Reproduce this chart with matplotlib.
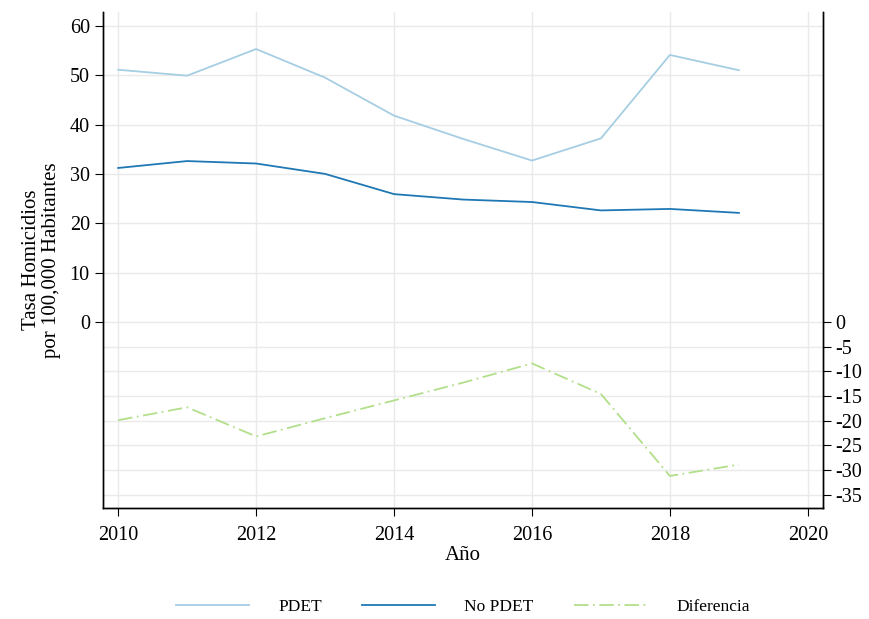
import matplotlib
matplotlib.use("Agg")
import matplotlib.pyplot as plt

# values
years = [2010, 2011, 2012, 2013, 2014, 2015, 2016, 2017, 2018, 2019]
pdet = [51.1, 49.9, 55.3, 49.5, 41.8, 37.1, 32.7, 37.2, 54.1, 51.0]
no_pdet = [31.2, 32.6, 32.1, 30.0, 25.9, 24.8, 24.3, 22.6, 22.9, 22.1]
diferencia = [-19.9, -17.3, -23.2, -19.5, -15.9, -12.3, -8.4, -14.6, -31.2, -28.9]

left_ticks = [0, 10, 20, 30, 40, 50, 60]
right_ticks = [0, -5, -10, -15, -20, -25, -30, -35]
x_ticks = [2010, 2012, 2014, 2016, 2018, 2020]

plt.rcParams["font.family"] = ["Liberation Serif", "DejaVu Serif"]
plt.rcParams["axes.unicode_minus"] = False

FS = 14.5

fig = plt.figure(figsize=(8.7, 6.19), dpi=100)
ax = fig.add_axes([0.1184, 0.1793, 0.8276, 0.8013])
ax2 = ax.twinx()

l1, = ax.plot(years, pdet, color="#a6cee3", lw=1.3, label="PDET")
l2, = ax.plot(years, no_pdet, color="#1f78b4", lw=1.3, label="No PDET")
l3, = ax2.plot(years, diferencia, color="#b2df8a", lw=1.3,
               dashes=(8, 2.5, 1, 2.5), label="Diferencia")

ylim = (-37.7, 62.8)
ax.set_ylim(*ylim)
ax2.set_ylim(*ylim)
ax.set_xlim(2009.78, 2020.22)

# grid
for v in left_ticks + right_ticks[1:]:
    ax.axhline(v, color="#eaeaea", lw=1.0, zorder=0)
for v in x_ticks:
    ax.axvline(v, color="#eaeaea", lw=1.0, zorder=0)

ax.set_xticks(x_ticks)
ax.set_yticks(left_ticks)
ax2.set_yticks(right_ticks)
ax2.set_yticklabels([str(v) for v in right_ticks])
ax.tick_params(axis="both", labelsize=FS, length=6, width=0.8, direction="out")
ax.tick_params(axis="x", pad=7)
ax2.tick_params(axis="y", labelsize=FS, length=6, width=0.8, direction="out", pad=3)

for a in (ax, ax2):
    a.spines["top"].set_visible(False)
    for s in ("left", "right", "bottom"):
        a.spines[s].set_linewidth(1.0)

ax.set_ylabel("Tasa Homicidios\npor 100,000 Habitantes", fontsize=FS + 0.5,
              labelpad=6, linespacing=1.1)
ax.set_xlabel("Año", fontsize=FS + 0.5, labelpad=1)

fig.legend(handles=[l1, l2, l3], loc="center", bbox_to_anchor=(0.532, 0.02),
           ncol=3, frameon=False, fontsize=12.5, handlelength=4.2,
           columnspacing=2.3, handletextpad=1.7)

fig.savefig("out.png", dpi=100)
